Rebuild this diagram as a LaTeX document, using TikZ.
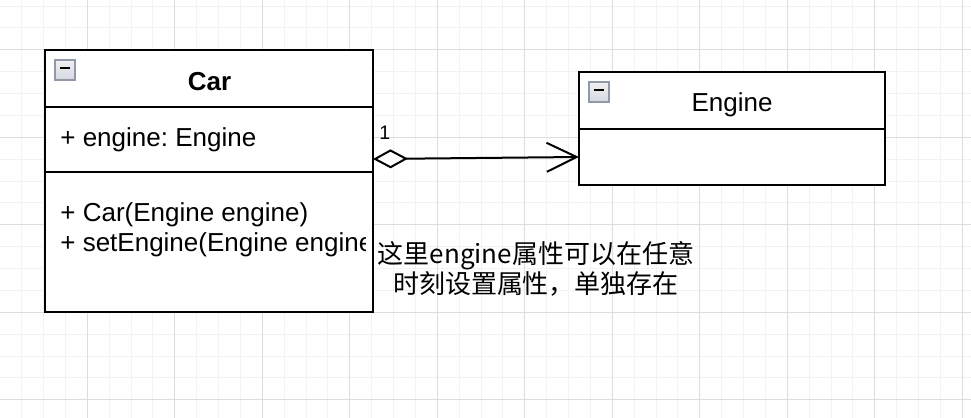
\documentclass[tikz,border=0pt]{standalone}
\usepackage{fontspec}
\setmainfont{Liberation Sans}
\newfontfamily\cjk{Noto Sans CJK SC}
\usepackage{xcolor}
\usetikzlibrary{positioning,arrows.meta}
\frenchspacing

\definecolor{gridminor}{RGB}{242,242,242}
\definecolor{gridmajor}{RGB}{221,221,221}
\definecolor{iconedge}{RGB}{145,152,168}
\definecolor{iconfill}{RGB}{214,217,224}

\begin{document}
\begin{tikzpicture}[
  x=0.5pt, y=-0.5pt,
  font=\fontsize{13}{15.6}\selectfont,
  cmp/.style={draw, line width=1pt, fill=white, rectangle, inner sep=0pt,
              outer sep=0pt, minimum width=#1},
  ico/.style={draw=iconedge, line width=0.8pt, top color=iconfill!40, bottom color=iconfill,
              minimum size=10pt, inner sep=0pt,
              path picture={\draw[line width=1pt, black]
                ([xshift=2.6pt,yshift=0.8pt]path picture bounding box.west) --
                ([xshift=-2.6pt,yshift=0.8pt]path picture bounding box.east);}},
  lbl/.style={inner sep=0pt, anchor=base west},
  agg/.style={line width=1pt,
              {Diamond[fill=white, length=17.5pt, width=9.5pt, line join=miter]}-{Straight Barb[length=15pt, width=14.5pt]}},
]
\useasboundingbox (0,0) rectangle (971,418);

%% ===== GRID =====
\foreach \i in {0,...,44}
  \draw[gridminor, line width=0.5pt] ({-0.2+21.875*\i},0) -- ({-0.2+21.875*\i},418);
\foreach \i in {0,...,18}
  \draw[gridminor, line width=0.5pt] (0,{6.05+21.875*\i}) -- (971,{6.05+21.875*\i});
\foreach \i in {0,...,11}
  \draw[gridmajor, line width=0.5pt] ({-0.2+87.5*\i},0) -- ({-0.2+87.5*\i},418);
\foreach \i in {0,...,4}
  \draw[gridmajor, line width=0.5pt] (0,{49.8+87.5*\i}) -- (971,{49.8+87.5*\i});

%% ===== CAR CLASS =====
\node[cmp=164pt, minimum height=28.5pt, anchor=north west] (carhead) at (45,50) {};
\node[cmp=164pt, minimum height=32.5pt, below=0pt of carhead] (carattr) {};
\node[cmp=164pt, minimum height=70pt, below=0pt of carattr] (carops) {};
\node[ico] (carico) at (65,70) {};
\node[inner sep=0pt, anchor=base, font=\fontsize{13}{15.6}\selectfont\bfseries] (carname) at (209.5,90) {Car};
\node[lbl] (carfield) at (60,146.5) {+ engine: Engine};
\node[lbl] (carctor) at (60,221) {+ Car(Engine engine)};
\begin{scope}
  \clip (45,172) rectangle (365,312);
  \node[lbl] (carset) at (60,251) {+ setEngine(Engine engine)};
\end{scope}

%% ===== ENGINE CLASS =====
\node[cmp=153pt, minimum height=28.5pt, anchor=north west] (enghead) at (579,72) {};
\node[cmp=153pt, minimum height=28pt, below=0pt of enghead] (engbody) {};
\node[ico] (engico) at (599,92) {};
\node[inner sep=0pt, anchor=base] (engname) at (732,111) {Engine};

%% ===== AGGREGATION =====
\draw[agg] ([yshift=6.5pt]carattr.south east) -- (engbody.west);
\node[lbl, font=\fontsize{9.8}{11}\selectfont] (mult) at (379,139) {1};

%% ===== NOTE =====
\node[align=center, inner sep=0pt, font=\cjk\fontsize{13}{15}\selectfont] (note) at (536,269)
    {这里engine属性可以在任意\\时刻设置属性，单独存在};

\end{tikzpicture}
\end{document}
